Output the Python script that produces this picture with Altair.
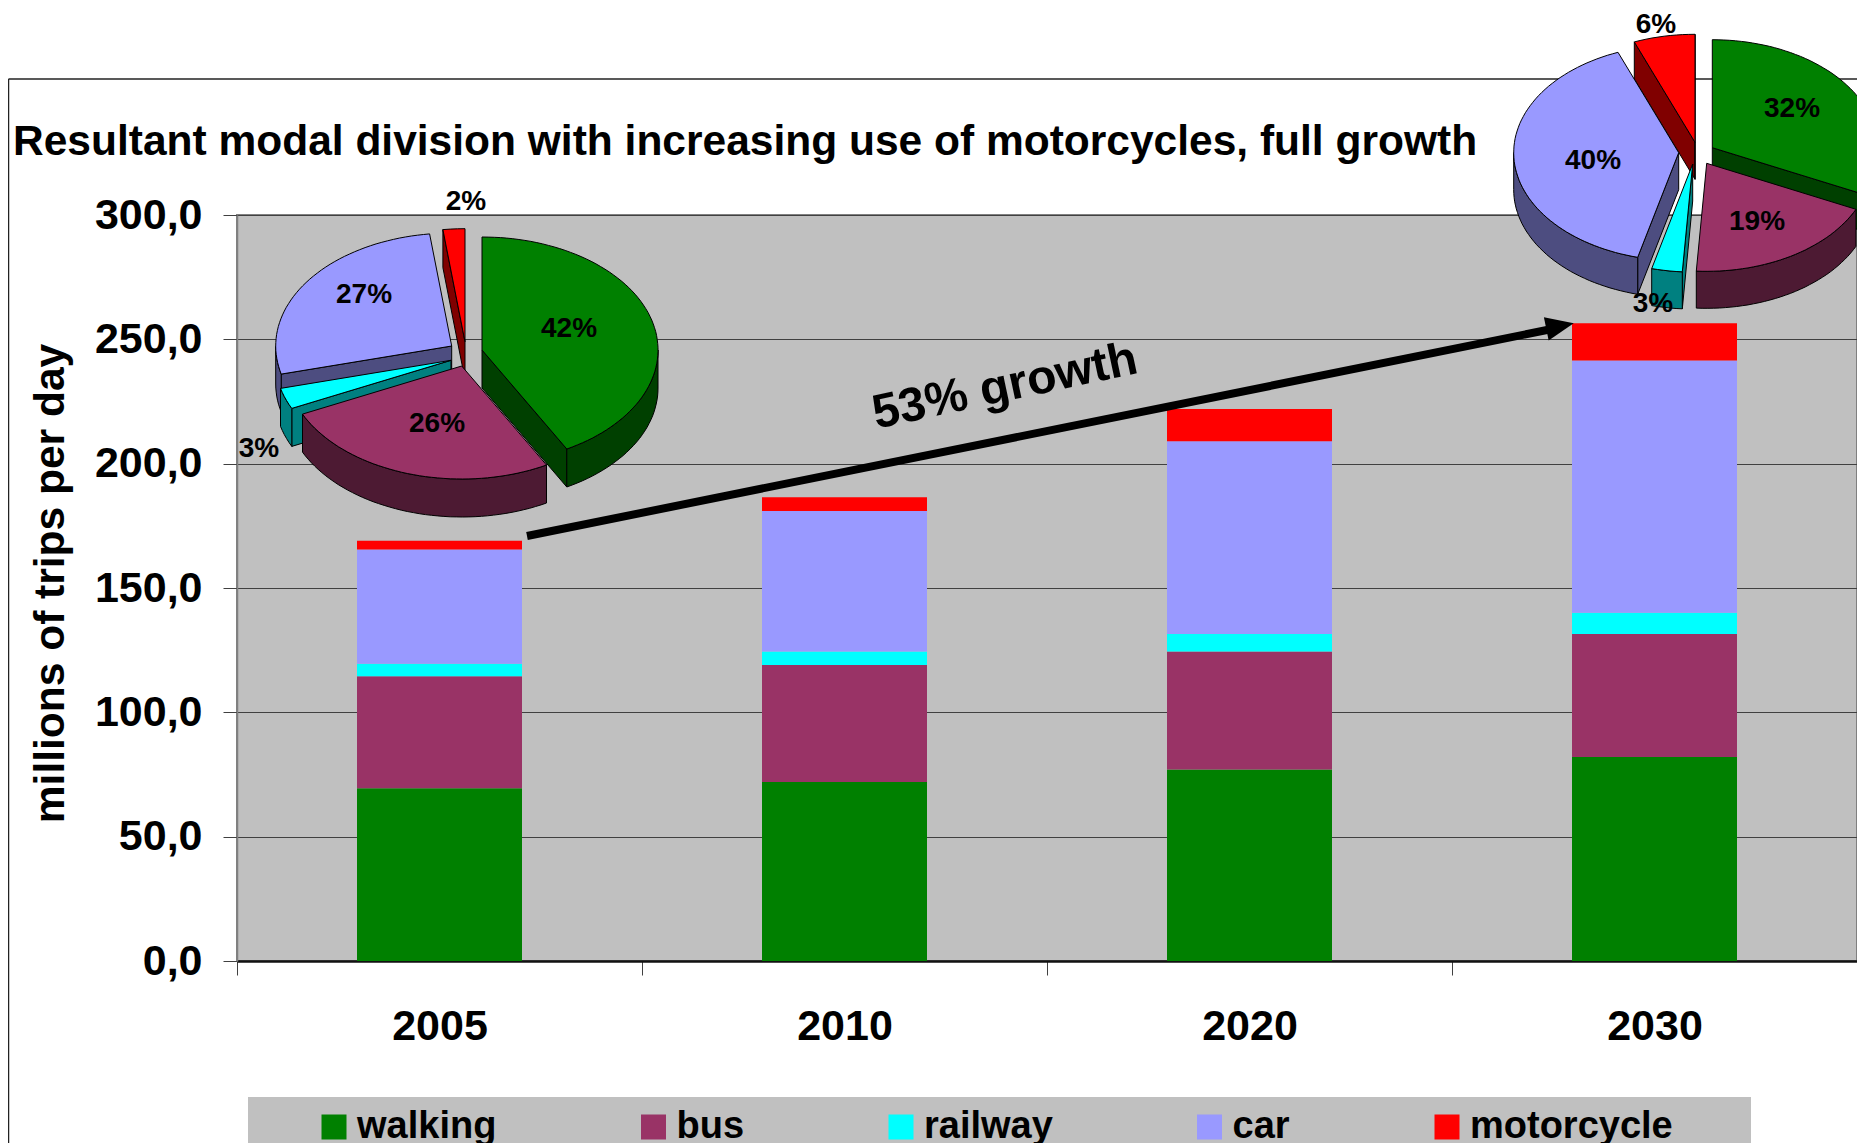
import math
import altair as alt
import pandas as pd

years = ["2005", "2010", "2020", "2030"]
modes = ["walking", "bus", "railway", "car", "motorcycle"]
walking = [69.5, 72.0, 77.0, 82.0]
bus = [45.0, 47.0, 47.5, 49.5]
railway = [5.0, 5.5, 7.0, 8.5]
car = [46.0, 56.5, 77.5, 101.5]
motorcycle = [3.5, 5.5, 13.0, 15.0]
pie_2005 = [42, 26, 3, 27, 2]
pie_2030 = [32, 19, 3, 40, 6]
y_ticks = [0, 50, 100, 150, 200, 250, 300]
title_text = "Resultant modal division with increasing use of motorcycles, full growth"
y_title = "millions of trips per day"
growth_text = "53% growth"

top_colors = ["#008000", "#993366", "#00FFFF", "#9999FF", "#FF0000"]
side_colors = ["#004000", "#4D1A33", "#008080", "#4D4D80", "#800000"]
FONT = "Liberation Sans"

# layout: absolute page pixels of the plot box
PX, PY = 237, 215
W, H = 1620, 746


def rel(ax, ay):
    return ax - PX, ay - PY


series = [walking, bus, railway, car, motorcycle]
bars = pd.DataFrame(
    [
        {"year": y, "mode": m, "rank": k, "value": series[k][i]}
        for i, y in enumerate(years)
        for k, m in enumerate(modes)
    ]
)


def pt(th, rx, ry, dz=0.0):
    r = math.radians(th)
    return rx * math.sin(r), -ry * math.cos(r) + dz


def arc(a, b, rx, ry, dz=0.0):
    n = max(2, int(abs(b - a) / 2))
    return [pt(a + (b - a) * i / n, rx, ry, dz) for i in range(n + 1)]


def path(points):
    return "M" + "L".join(f"{x:.1f},{y:.1f}" for x, y in points) + "Z"


def wedge_parts(a, b, rx, ry, d):
    parts = []
    if math.sin(math.radians(a)) < 0:
        p, q = pt(a, rx, ry), pt(a, rx, ry, d)
        parts.append(("side", path([(0, 0), p, q, (0, d)])))
    if math.sin(math.radians(b)) > 0:
        p, q = pt(b, rx, ry), pt(b, rx, ry, d)
        parts.append(("side", path([(0, 0), p, q, (0, d)])))
    a2, b2 = max(a, 90), min(b, 270)
    if a2 < b2:
        parts.append(("side", path(arc(a2, b2, rx, ry) + arc(b2, a2, rx, ry, d))))
    parts.append(("top", path([(0, 0)] + arc(a, b, rx, ry))))
    return parts


pie_specs = [
    ("2005", pie_2005, 176, 113, 38,
     [(482, 350), (461.7, 366), (451, 360.3), (451.7, 346), (465, 341.7)]),
    ("2030", pie_2030, 165, 108, 37,
     [(1712.3, 147.7), (1706.7, 163.3), (1692.7, 164), (1678.7, 152.7), (1695, 142.3)]),
]
draw_order = [4, 3, 2, 0, 1]

rows = []
for name, shares, rx, ry, d, apexes in pie_specs:
    starts = [sum(shares[:i]) * 3.6 for i in range(5)]
    for k in draw_order:
        a, b = starts[k], starts[k] + shares[k] * 3.6
        x, y = rel(*apexes[k])
        for j, (kind, p) in enumerate(wedge_parts(a, b, rx, ry, d)):
            rows.append(
                {
                    "id": f"{name}-{modes[k]}-{kind}-{j}",
                    "px": x,
                    "py": y,
                    "fill": top_colors[k] if kind == "top" else side_colors[k],
                    "path": p,
                }
            )
pieces = pd.DataFrame(rows)

label_pos = {
    "2005": [(569, 329), (437, 424), (259, 449), (364, 295), (466, 202)],
    "2030": [(1792, 109), (1757, 222), (1653, 304), (1593, 161), (1656, 25)],
}
labels = []
for name, shares, *_ in pie_specs:
    for k, s in enumerate(shares):
        x, y = rel(*label_pos[name][k])
        labels.append({"px": x, "py": y, "label": f"{s}%"})
labels = pd.DataFrame(labels)

one = pd.DataFrame({"a": [0]})

# outer frame and legend band
fx0, fy0 = rel(8.5, 79)
frame_top = alt.Chart(one).mark_rule(color="#222222", strokeWidth=1.5).encode(
    x=alt.value(fx0), x2=alt.value(W), y=alt.value(fy0)
)
frame_left = alt.Chart(one).mark_rule(color="#222222", strokeWidth=1.5).encode(
    x=alt.value(fx0), y=alt.value(fy0), y2=alt.value(H + 190)
)
bx0, by0 = rel(248, 1097)
bx1, by1 = rel(1751, 1150)
legend_band = alt.Chart(one).mark_rect(color="#C0C0C0").encode(
    x=alt.value(bx0), x2=alt.value(bx1), y=alt.value(by0), y2=alt.value(by1)
)

bar_layer = alt.Chart(bars).mark_bar(size=165).encode(
    x=alt.X(
        "year:N",
        sort=years,
        scale=alt.Scale(paddingInner=0, paddingOuter=0),
        title=None,
        axis=alt.Axis(
            labelAngle=0,
            labelFont=FONT,
            labelFontSize=43,
            labelFontWeight="bold",
            labelColor="black",
            labelPadding=30,
            tickBand="extent",
            tickColor="#404040",
            tickSize=14,
            tickWidth=1,
            domainColor="#111111",
            domainWidth=2.5,
            grid=False,
        ),
    ),
    y=alt.Y(
        "value:Q",
        stack="zero",
        scale=alt.Scale(domain=[0, 300], nice=False),
        title=y_title,
        axis=alt.Axis(
            values=y_ticks,
            labelExpr="replace(format(datum.value,'.1f'),'.',',')",
            labelFont=FONT,
            labelFontSize=43,
            labelFontWeight="bold",
            labelColor="black",
            labelPadding=21,
            tickColor="#404040",
            tickSize=14,
            tickWidth=1,
            domainColor="#808080",
            domainWidth=1.5,
            grid=True,
            gridColor="#404040",
            gridWidth=1,
            titleFont=FONT,
            titleFontSize=42.5,
            titleFontWeight="bold",
            titleColor="black",
            titleAngle=270,
            titleAlign="center",
            titleBaseline="middle",
            titleX=-187,
            titleY=368,
        ),
    ),
    color=alt.Color(
        "mode:N",
        scale=alt.Scale(domain=modes, range=top_colors),
        legend=alt.Legend(
            orient="none",
            legendX=78,
            legendY=893,
            direction="horizontal",
            columns=5,
            title=None,
            symbolType="square",
            symbolSize=625,
            symbolStrokeWidth=0,
            labelFont=FONT,
            labelFontSize=38,
            labelFontWeight="bold",
            labelColor="black",
            labelOffset=4,
            columnPadding=137.5,
            padding=0,
            labelLimit=400,
            gridAlign="each",
        ),
    ),
    order=alt.Order("rank:Q"),
)

# growth arrow
ax0, ay0 = rel(527, 536)
ax1, ay1 = rel(1552, 329)
arrow_line = alt.Chart(one).mark_rule(color="black", strokeWidth=8).encode(
    x=alt.value(ax0), x2=alt.value(ax1), y=alt.value(ay0), y2=alt.value(ay1)
)
hx, hy = rel(1560, 326)
arrow_head = alt.Chart(one).mark_point(
    shape="M1,0L-1,-0.85L-1,0.85Z", size=784, filled=True, color="black", opacity=1, angle=348.5
).encode(x=alt.value(hx), y=alt.value(hy))
gx, gy = rel(1005, 387)
growth = alt.Chart(pd.DataFrame({"t": [growth_text]})).mark_text(
    font=FONT, fontSize=48, fontWeight="bold", color="black", angle=348, align="center", baseline="middle"
).encode(x=alt.value(gx), y=alt.value(gy), text="t:N")

pie_layer = alt.Chart(pieces).mark_point(filled=True, size=4, opacity=1, strokeWidth=1).encode(
    x=alt.X("px:Q", scale=None),
    y=alt.Y("py:Q", scale=None),
    fill=alt.Fill("fill:N", scale=None),
    stroke=alt.value("black"),
    shape=alt.Shape(
        "id:N",
        scale=alt.Scale(domain=pieces["id"].tolist(), range=pieces["path"].tolist()),
        legend=None,
    ),
)
label_layer = alt.Chart(labels).mark_text(
    font=FONT, fontSize=28, fontWeight="bold", color="black", align="center", baseline="middle"
).encode(
    x=alt.X("px:Q", scale=None),
    y=alt.Y("py:Q", scale=None),
    text="label:N",
)

tx, ty = rel(13, 155)
title_layer = alt.Chart(pd.DataFrame({"t": [title_text]})).mark_text(
    font=FONT, fontSize=42.5, fontWeight="bold", color="black", align="left", baseline="alphabetic", limit=1800
).encode(x=alt.value(tx), y=alt.value(ty), text="t:N")

chart = (
    alt.layer(
        frame_top, frame_left, legend_band, title_layer, bar_layer, arrow_line, arrow_head, growth, pie_layer, label_layer
    )
    .properties(
        width=W,
        height=H,
        padding={"left": 229, "top": 207, "right": 0, "bottom": 182},
        autosize=alt.AutoSizeParams(type="none"),
        background="white",
    )
    .configure_view(fill="#C0C0C0", stroke="#808080", strokeWidth=2)
)

chart.save("out.html", embed_options={"renderer": "svg", "actions": False})
